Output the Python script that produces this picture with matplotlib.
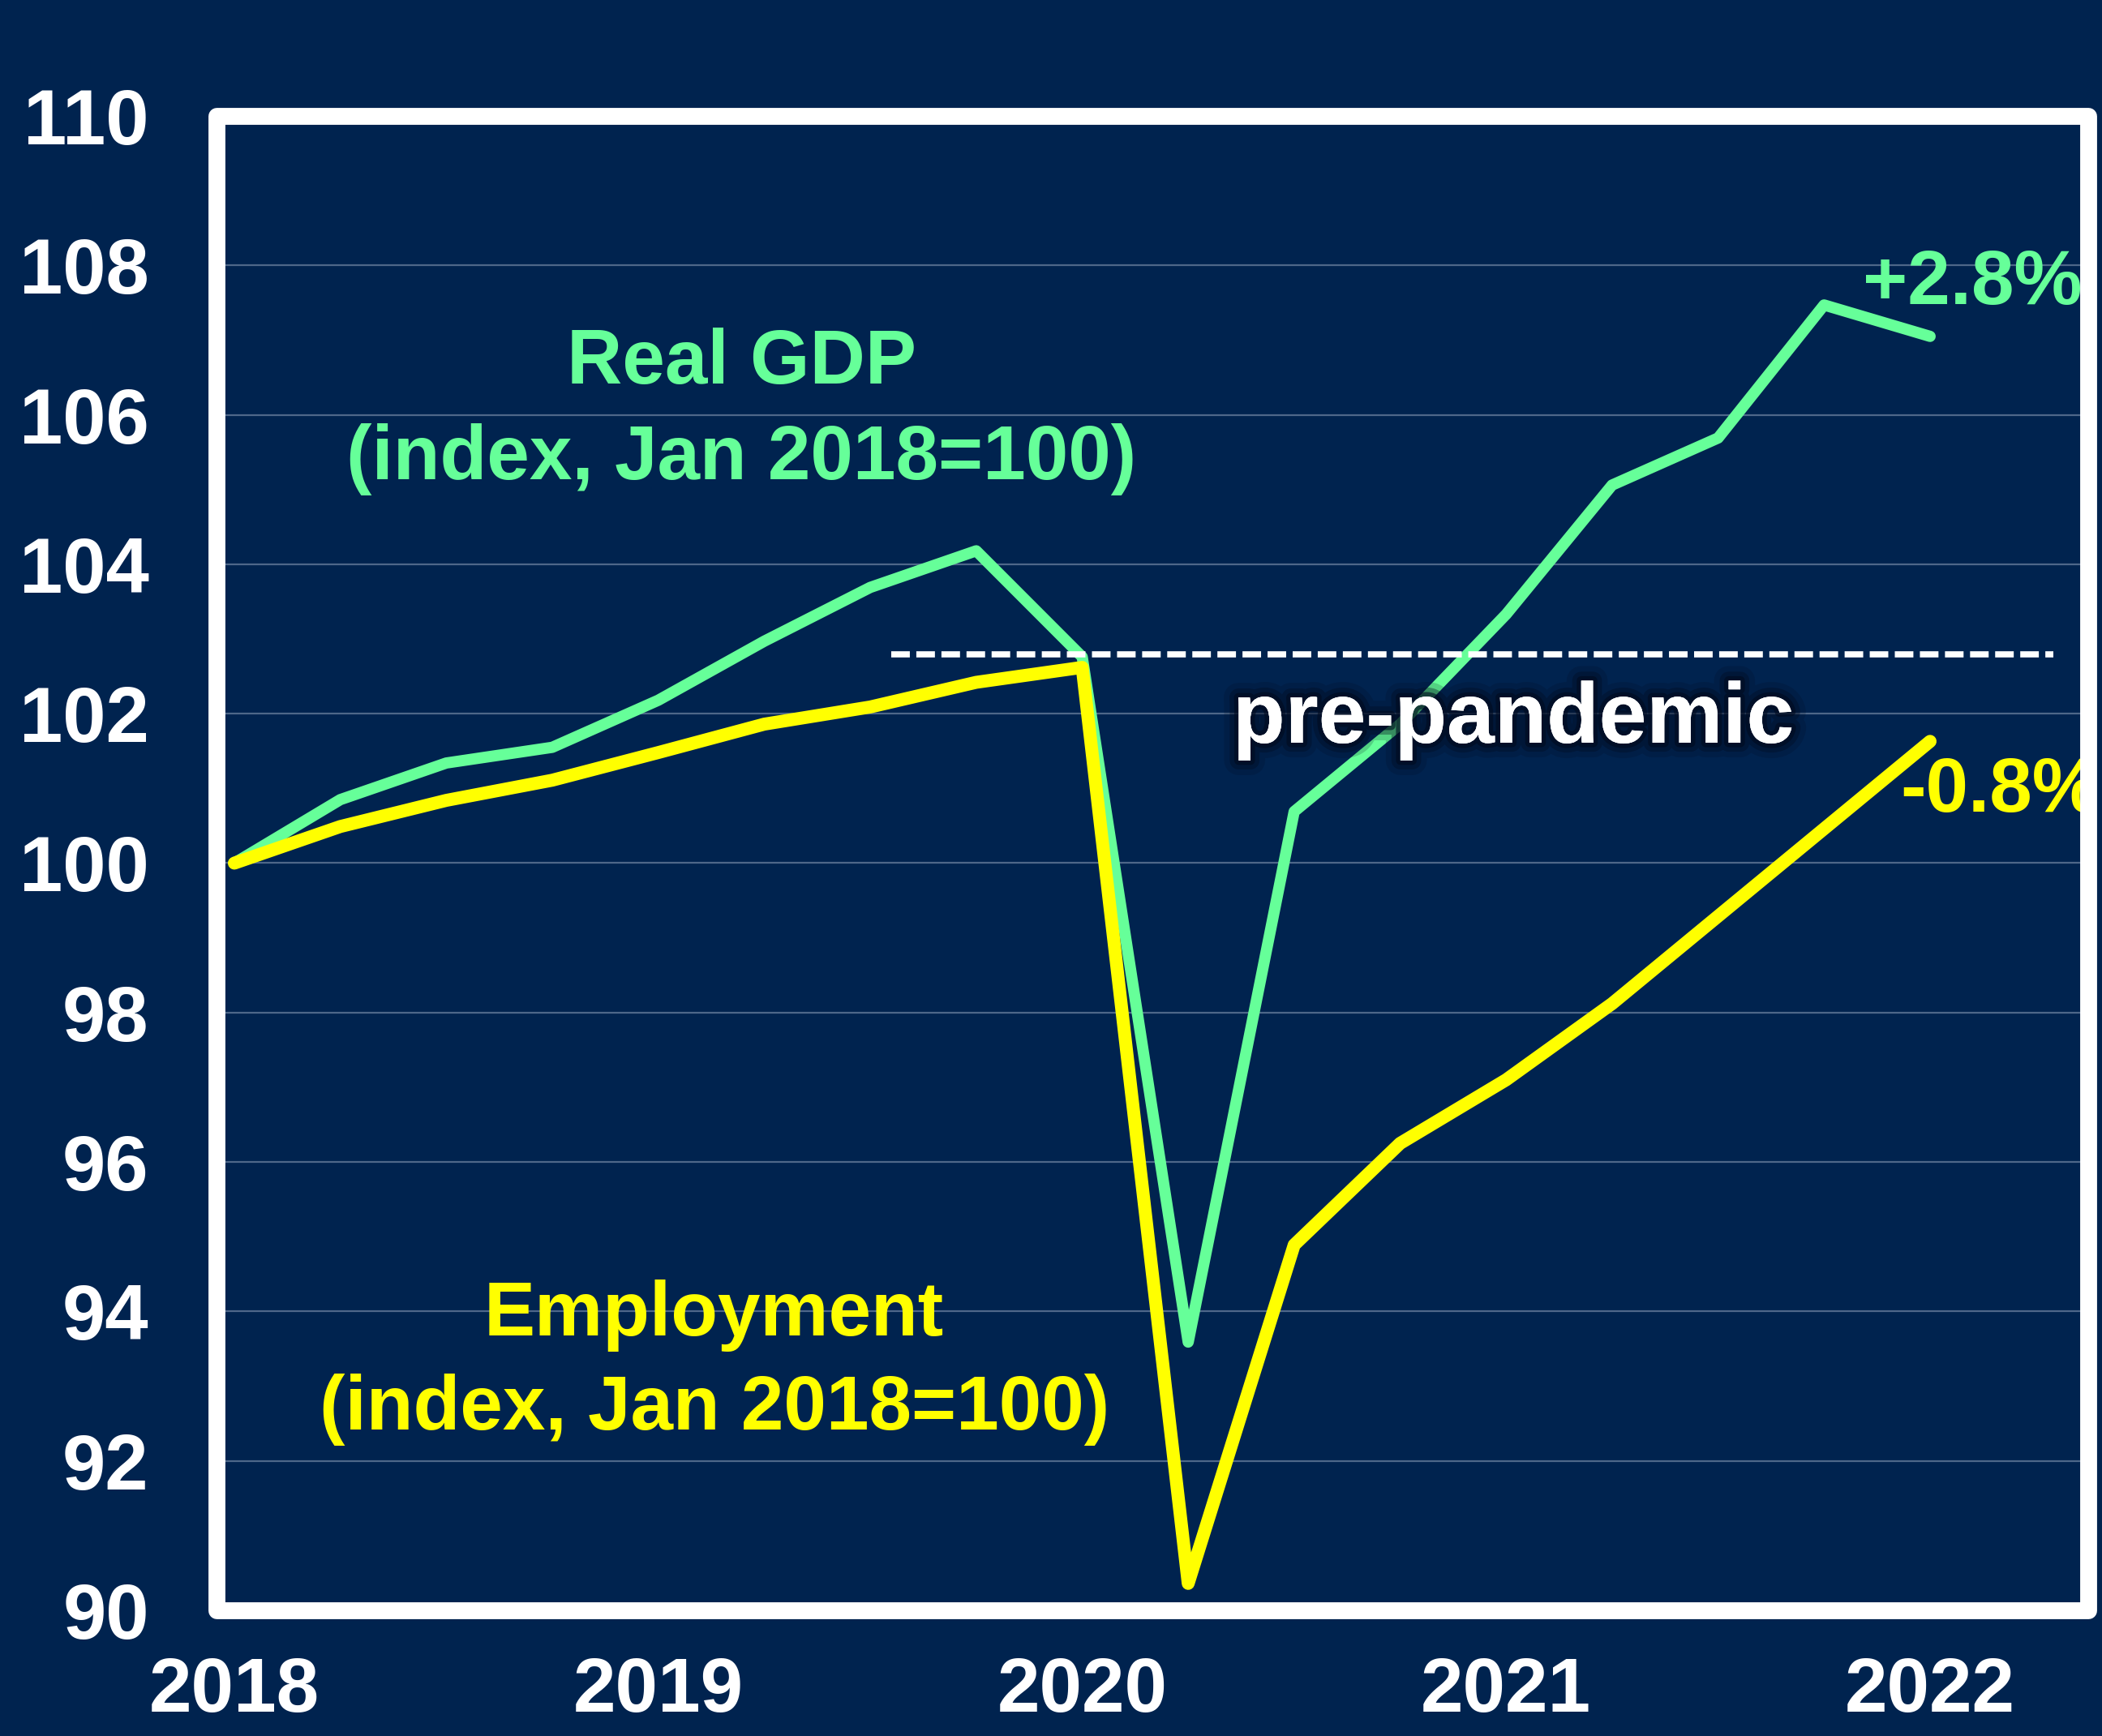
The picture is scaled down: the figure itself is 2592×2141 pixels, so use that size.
import matplotlib
matplotlib.use("Agg")
import matplotlib.pyplot as plt
import matplotlib.patheffects as pe
from matplotlib.patches import Rectangle

# ---- data ----
quarters = [2018.0, 2018.25, 2018.5, 2018.75, 2019.0, 2019.25, 2019.5, 2019.75,
            2020.0, 2020.25, 2020.5, 2020.75, 2021.0, 2021.25, 2021.5, 2021.75, 2022.0]
real_gdp = [100.0, 100.85, 101.34, 101.55, 102.18, 102.97, 103.69, 104.18,
            102.76, 93.59, 100.69, 101.86, 103.33, 105.06, 105.69, 107.47, 107.05]
employment = [100.0, 100.49, 100.84, 101.11, 101.48, 101.86, 102.09, 102.42,
              102.62, 90.36, 94.89, 96.25, 97.10, 98.12, 99.29, 100.46, 101.63]
prepandemic_x = [2019.55, 2022.29]
prepandemic_level = [102.79, 102.79]
year_ticks = [2018, 2019, 2020, 2021, 2022]
year_labels = ["2018", "2019", "2020", "2021", "2022"]
y_ticks = [90, 92, 94, 96, 98, 100, 102, 104, 106, 108, 110]

BG = "#00234F"
GREEN = "#66FF99"
YELLOW = "#FFFF00"
FONT = "Liberation Sans"

fig = plt.figure(figsize=(25.92, 21.41), dpi=100)
fig.patch.set_facecolor(BG)
ax = fig.add_axes([0.10301, 0.07240, 0.89043, 0.86081])
ax.set_facecolor(BG)
ax.set_xlim(2017.958, 2022.373)
ax.set_ylim(90, 110)

for s in ax.spines.values():
    s.set_visible(False)

ax.set_yticks(y_ticks)
ax.set_yticklabels([str(v) for v in y_ticks])
ax.set_xticks(year_ticks)
ax.set_xticklabels(year_labels)
ax.tick_params(axis="both", length=0, colors="white")
ax.tick_params(axis="y", pad=60)
ax.tick_params(axis="x", pad=40)
for lab in ax.get_yticklabels():
    lab.set_fontfamily(FONT)
    lab.set_fontweight("bold")
    lab.set_fontsize(69)
    lab.set_color("white")
for lab in ax.get_xticklabels():
    lab.set_fontfamily(FONT)
    lab.set_fontweight("bold")
    lab.set_fontsize(68)
    lab.set_color("white")

ax.grid(axis="y", color="#5C7494", linewidth=1.6, alpha=0.85)
ax.set_axisbelow(True)

ax.plot(quarters, real_gdp, color=GREEN, linewidth=10,
        solid_capstyle="round", solid_joinstyle="round", zorder=3)
ax.plot(quarters, employment, color=YELLOW, linewidth=11.5,
        solid_capstyle="round", solid_joinstyle="round", zorder=4)
ax.plot(prepandemic_x, prepandemic_level, color="white", linewidth=5.5,
        linestyle=(0, (3, 1.05)), dash_capstyle="butt", zorder=5)

tkw = dict(fontfamily=FONT, fontweight="bold", ha="center", va="center")
ax.text(2019.196, 106.68, "Real GDP", color=GREEN, fontsize=68, zorder=6, **tkw)
ax.text(2019.196, 105.40, "(index, Jan 2018=100)", color=GREEN, fontsize=68, zorder=6, **tkw)
ax.text(2019.132, 93.95, "Employment", color=YELLOW, fontsize=68, zorder=6, **tkw)
ax.text(2019.132, 92.69, "(index, Jan 2018=100)", color=YELLOW, fontsize=68, zorder=6, **tkw)
ax.text(2021.017, 101.91, "pre-pandemic", color="white", fontsize=76, zorder=7,
        path_effects=[pe.withStroke(linewidth=26, foreground="#000A1E", alpha=0.18),
                      pe.withStroke(linewidth=16, foreground="#000A1E", alpha=0.35),
                      pe.withStroke(linewidth=8, foreground="#000A1E", alpha=0.6),
                      pe.Normal()], **tkw)
ax.text(2021.842, 107.75, "+2.8%", color=GREEN, fontsize=68, zorder=6,
        fontfamily=FONT, fontweight="bold", ha="left", va="center", clip_on=True)
ax.text(2021.93, 100.96, "-0.8%", color=YELLOW, fontsize=68, zorder=6,
        fontfamily=FONT, fontweight="bold", ha="left", va="center", clip_on=True)

frame = Rectangle((0, 0), 1, 1, transform=ax.transAxes, fill=False,
                  edgecolor="white", linewidth=15, joinstyle="round",
                  clip_on=False, zorder=10)
ax.add_patch(frame)

fig.savefig("out.png", dpi=100, facecolor=BG)
